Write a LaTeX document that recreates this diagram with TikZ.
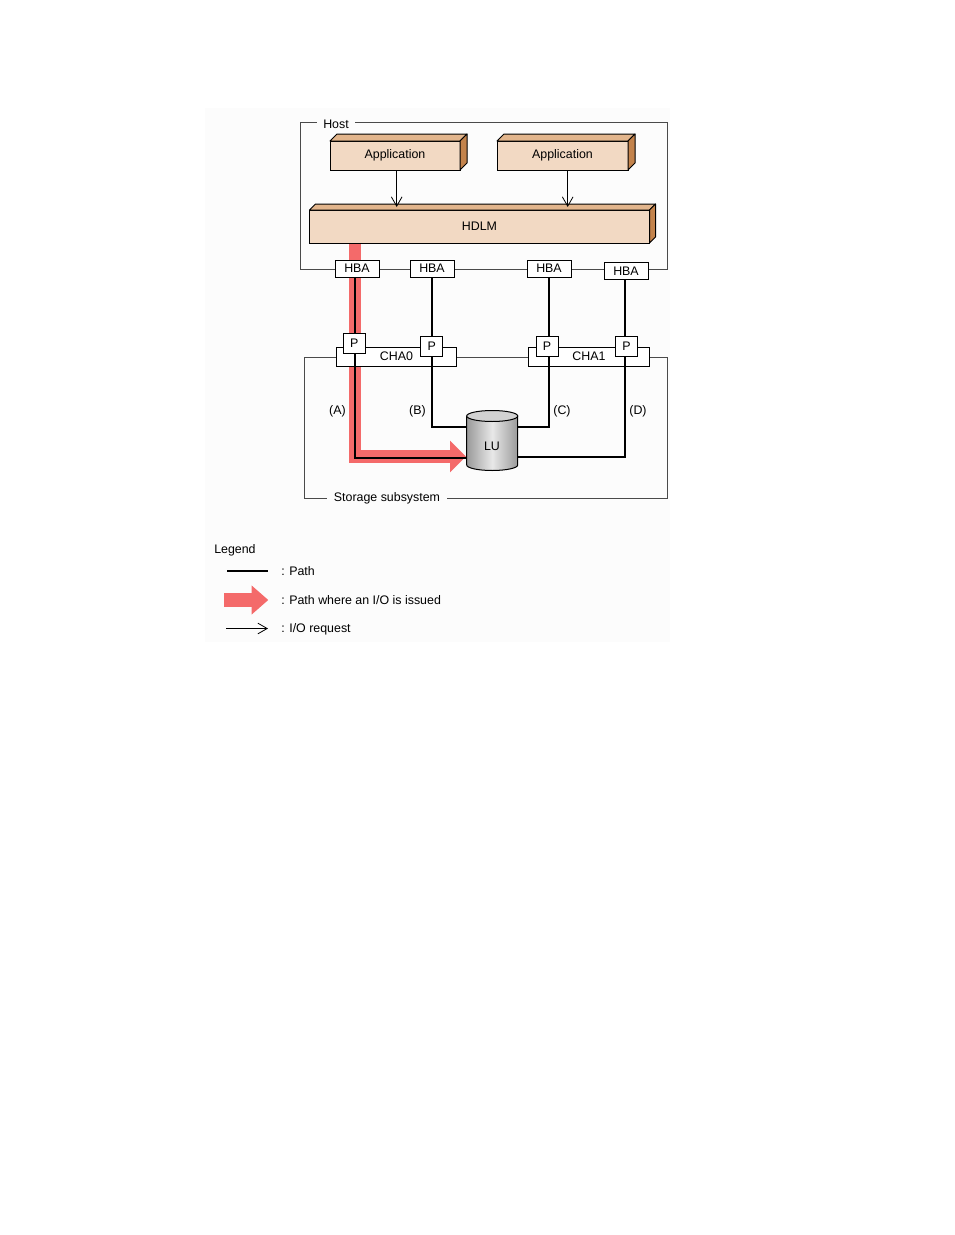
\documentclass[tikz,border=0pt]{standalone}
\usepackage{fontspec}
\setmainfont{Liberation Sans}
\usetikzlibrary{arrows.meta,calc}
\definecolor{bgc}{HTML}{FCFCFC}
\definecolor{peach}{HTML}{F2D9C3}
\definecolor{peachtop}{HTML}{E2B58C}
\definecolor{peachside}{HTML}{C3834C}
\definecolor{iored}{HTML}{F46A6A}
\definecolor{framec}{HTML}{4A4A4A}
\definecolor{cyldark}{HTML}{9A9A9A}
\definecolor{cyllight}{HTML}{E8E8E8}
\definecolor{cyltop}{HTML}{D2D2D2}
\newcommand\dfont{\fontsize{9.3}{11}\selectfont}
\newcommand\slabfaces[2]{%
  \draw[topface] (#1.north west) -- ++(#2,-#2) -- ($(#1.north east)+(#2,-#2)$) -- (#1.north east) -- cycle;
  \draw[sideface] (#1.north east) -- ++(#2,-#2) -- ($(#1.south east)+(#2,-#2)$) -- (#1.south east) -- cycle;}
\begin{document}
\begin{tikzpicture}[x=0.75pt,y=-0.75pt,
  every node/.style={font=\dfont, text=black},
  frame/.style={draw=framec, line width=0.75pt},
  flabel/.style={fill=bgc, inner xsep=5pt, inner ysep=2pt},
  box/.style={draw=black, fill=white, line width=0.75pt, inner sep=0pt, outer sep=0pt},
  hba/.style={box, minimum width=33pt, minimum height=12.75pt},
  pbox/.style={box, minimum width=16.5pt, minimum height=15pt},
  cha/.style={box, minimum width=90.5pt, minimum height=14.25pt},
  slab/.style={draw=black, fill=peach, line width=0.75pt, inner sep=0pt, outer sep=0pt},
  topface/.style={draw=black, fill=peachtop, line width=0.75pt, line join=round},
  sideface/.style={draw=black, fill=peachside, line width=0.75pt, line join=round},
  pathline/.style={draw=black, line width=1.5pt},
  iopath/.style={draw=iored, line width=9.4pt, line join=miter, -{Triangle[length=12pt,width=23pt]}},
  iolegend/.style={draw=iored, line width=10.5pt, -{Triangle[length=12.5pt,width=21pt]}},
  ioarrow/.style={draw=black, line width=0.6pt, -{Straight Barb[length=7pt,width=8pt]}},
  plain/.style={inner sep=0pt}]

\useasboundingbox (0,0) rectangle (954,1235);
\fill[bgc] (205,108) rectangle (670,642);

% frames
\draw[frame] (300,122) rectangle (667,269);
\node[flabel] (hostlbl) at (336,124.5) {Host};
\draw[frame] (304,357) rectangle (667,498.5);
\node[flabel] (storlbl) at (387,498.5) {Storage subsystem};

% red I/O path
\coordinate (redtop) at (355,243);
\coordinate (redend) at (466,456.5);
\draw[iopath] (redtop) |- (redend);

% box nodes
\node[hba] (hba1) at (357,268.5) {HBA};
\node[hba] (hba2) at (432,268.5) {HBA};
\node[hba] (hba3) at (549,268.5) {HBA};
\node[hba] (hba4) at (626,270.8) {HBA};
\node[cha] (cha0) at (396.5,356.5) {CHA0};
\node[cha] (cha1) at (589,356.5) {CHA1};

% connection points on LU
\coordinate (luA) at (466.7,458);
\coordinate (luB) at (466.7,427);
\coordinate (luC) at (517.7,427);
\coordinate (luD) at (517.7,457);

% path lines
\coordinate (xA) at (355,0);
\coordinate (xB) at (432,0);
\coordinate (xC) at (549,0);
\coordinate (xD) at (625,0);
\draw[pathline] (hba1.south -| xA) |- (luA);
\draw[pathline] (hba2.south -| xB) |- (luB);
\draw[pathline] (hba3.south -| xC) |- (luC);
\draw[pathline] (hba4.south -| xD) |- (luD);

% P boxes
\node[pbox] (p1) at (354.2,343.3) {P};
\node[pbox] (p2) at (431.7,346) {P};
\node[pbox] (p3) at (547,346) {P};
\node[pbox] (p4) at (626.5,346) {P};

% 3D slabs
\node[slab, minimum width=97.5pt, minimum height=21.75pt] (app1) at (395,155.5) {Application};
\slabfaces{app1}{7}
\node[slab, minimum width=98.25pt, minimum height=21.75pt] (app2) at (562.5,155.5) {Application};
\slabfaces{app2}{7}
\node[slab, minimum width=255pt, minimum height=24.75pt] (hdlm) at (479.5,226.5) {HDLM};
\slabfaces{hdlm}{6}

% I/O request arrows
\draw[ioarrow] ($(app1.south)+(1.7,0)$) -- ($(app1.south |- hdlm.north)+(1.7,-3)$);
\draw[ioarrow] ($(app2.south)+(5.2,0)$) -- ($(app2.south |- hdlm.north)+(5.2,-3)$);

% LU cylinder
\draw[line width=0.75pt, left color=cyldark, right color=cyldark, middle color=cyllight]
  (466.7,416) -- (466.7,465) arc[start angle=180, end angle=0, x radius=25.5, y radius=5.5] -- (517.7,416) -- cycle;
\draw[line width=0.75pt, fill=cyltop] (492.2,416) ellipse [x radius=25.5, y radius=5.5];
\node[plain] (lu) at (492,446.5) {LU};

% path labels
\node[plain] (la) at (337.5,411.5) {(A)};
\node[plain] (lb) at (417.5,411.5) {(B)};
\node[plain] (lc) at (562,411.5) {(C)};
\node[plain] (ld) at (638,411.5) {(D)};

% legend
\node[plain, anchor=west] (legend) at (214,550.5) {Legend};
\coordinate (l1a) at (227,571);
\coordinate (l1b) at (268,571);
\draw[pathline] (l1a) -- (l1b);
\node[plain, anchor=west] (t1) at (281,571.5) {: Path};
\coordinate (l2a) at (224.3,600);
\coordinate (l2b) at (268.3,600);
\draw[iolegend] (l2a) -- (l2b);
\node[plain, anchor=west] (t2) at (281,600.5) {: Path where an I/O is issued};
\coordinate (l3a) at (226,628.5);
\coordinate (l3b) at (268,628.5);
\draw[ioarrow] (l3a) -- (l3b);
\node[plain, anchor=west] (t3) at (281,629) {: I/O request};
\end{tikzpicture}
\end{document}
